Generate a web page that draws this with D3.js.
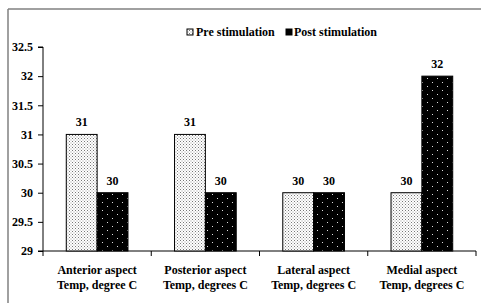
<!DOCTYPE html>
<html><head><meta charset="utf-8">
<script src="https://cdn.jsdelivr.net/npm/d3@7"></script>
<style>body{margin:0;background:#fff}svg{display:block}</style>
</head><body><svg id="c" width="481" height="307" font-family="Liberation Serif" font-weight="bold"></svg>
<script>
const categories = [["Anterior aspect","Temp, degree C"],["Posterior aspect","Temp, degrees C"],["Lateral aspect","Temp, degrees C"],["Medial aspect","Temp, degrees C"]];
const seriesNames = ["Pre stimulation","Post stimulation"];
const preValues = [31, 31, 30, 30];
const postValues = [30, 30, 30, 32];
const yTicks = [29, 29.5, 30, 30.5, 31, 31.5, 32, 32.5];

const FONT = "Liberation Serif";
const svg = d3.select("#c");
const defs = svg.append("defs");
const p1 = defs.append("pattern").attr("id","pre").attr("patternUnits","userSpaceOnUse").attr("width",3).attr("height",3);
p1.append("rect").attr("width",3).attr("height",3).attr("fill","#fff");
p1.append("rect").attr("x",0).attr("y",0).attr("width",1).attr("height",1).attr("fill","#777");
p1.append("rect").attr("x",1.5).attr("y",1.5).attr("width",1).attr("height",1).attr("fill","#999");
const p2 = defs.append("pattern").attr("id","post").attr("patternUnits","userSpaceOnUse").attr("width",10).attr("height",8);
p2.append("rect").attr("width",10).attr("height",8).attr("fill","#000");
p2.append("rect").attr("x",2).attr("y",2).attr("width",1).attr("height",1).attr("fill","#ddd");
p2.append("rect").attr("x",7).attr("y",6).attr("width",1).attr("height",1).attr("fill","#ddd");

// outer frame
svg.append("line").attr("x1",8).attr("x2",481).attr("y1",9).attr("y2",9).attr("stroke","#808080").attr("stroke-width",1.5);
svg.append("line").attr("x1",8).attr("x2",8).attr("y1",9).attr("y2",303).attr("stroke","#808080").attr("stroke-width",1.5);

const x0 = 43, x1 = 476, yTop = 47, yBot = 251;
const x = d3.scaleBand().domain(d3.range(categories.length)).range([x0,x1]).paddingInner(0.43).paddingOuter(0.215);
const y = d3.scaleLinear().domain([29,32.5]).range([yBot,yTop]);

function txt(sel){ return sel.attr("font-family",FONT).attr("font-weight","bold").attr("fill","#000"); }

// y axis
const ya = svg.append("g").attr("transform",`translate(${x0},0)`)
  .call(d3.axisLeft(y).tickValues(yTicks).tickSize(5).tickPadding(5).tickFormat(d=>String(d)));
ya.attr("font-family",FONT).attr("font-size",12).attr("font-weight","bold");
ya.select(".domain").attr("stroke","#000").attr("d",`M-5,${yTop}H0V${yBot}`);
ya.selectAll("text").attr("fill","#000");

// x axis
const bw = (x1-x0)/categories.length;
svg.append("line").attr("x1",x0-5).attr("x2",x1).attr("y1",yBot).attr("y2",yBot).attr("stroke","#000");
d3.range(categories.length+1).forEach(i=>{
  svg.append("line").attr("x1",x0+i*bw).attr("x2",x0+i*bw).attr("y1",yBot).attr("y2",yBot+5).attr("stroke","#000");
});

const half = x.bandwidth()/2;
const data = categories.map((c,i)=>({i, pre:preValues[i], post:postValues[i]}));
const g = svg.append("g");
data.forEach(d=>{
  [["pre",d.pre,0],["post",d.post,1]].forEach(([k,v,j])=>{
    const bx = x(d.i)+j*half;
    g.append("rect").attr("x",bx).attr("y",y(v)).attr("width",half).attr("height",yBot-y(v))
      .attr("fill",`url(#${k})`).attr("stroke","#000").attr("stroke-width",1);
    txt(g.append("text")).attr("x",bx+half/2).attr("y",y(v)-8).attr("text-anchor","middle").attr("font-size",12).text(v);
  });
  const cx = x0+(d.i+0.5)*bw;
  categories[d.i].forEach((t,k)=>{
    txt(g.append("text")).attr("x",cx).attr("y",274+k*15).attr("text-anchor","middle").attr("font-size",12).text(t);
  });
});

// legend
const lg = svg.append("g");
lg.append("rect").attr("x",187).attr("y",29).attr("width",6).attr("height",6).attr("fill","url(#pre)").attr("stroke","#000");
txt(lg.append("text")).attr("x",196).attr("y",36).attr("font-size",12).text(seriesNames[0]);
lg.append("rect").attr("x",286).attr("y",29).attr("width",6).attr("height",6).attr("fill","#000").attr("stroke","#000");
txt(lg.append("text")).attr("x",294).attr("y",36).attr("font-size",12).text(seriesNames[1]);
</script></body></html>
